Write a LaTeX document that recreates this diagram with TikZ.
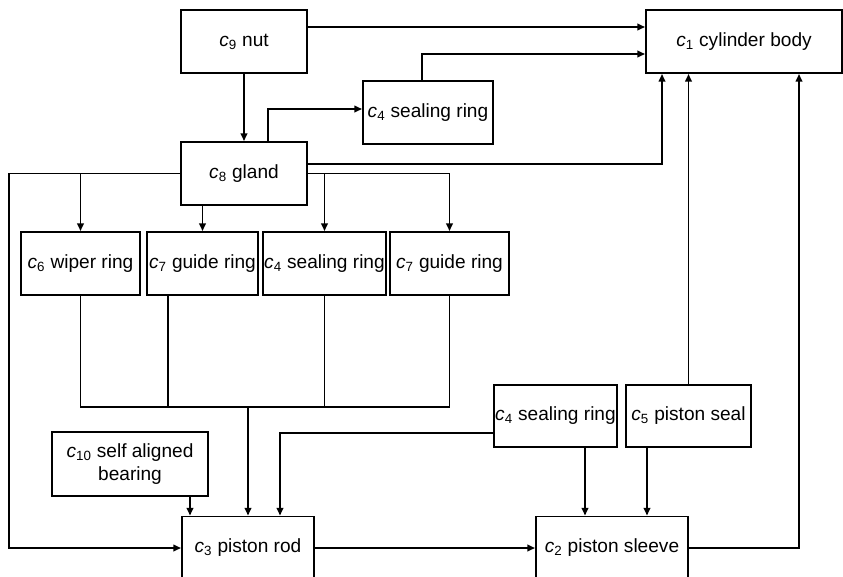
\documentclass[tikz,border=0pt]{standalone}
\usepackage{fontspec}
\setmainfont{Liberation Sans}
\usetikzlibrary{arrows.meta,calc,positioning}
\newcommand{\ci}[1]{\textit{c}\textsubscript{#1}}

\begin{document}
\begin{tikzpicture}[x=0.03cm,y=-0.03cm,
  part/.style={draw,line width=1.6pt,inner sep=1pt,minimum height=1.89cm,align=center,
    font=\fontsize{16.3}{19}\selectfont},
  link/.style={line width=1.6pt},
  arr/.style={link,-{Triangle[length=6.5pt,width=5.5pt]}}]

\clip (0,0) rectangle (843,576);

% parts
\node[part,minimum width=3.78cm] (nut) at (244,41.5) {\ci{9} nut};
\node[part,minimum width=5.88cm] (body) at (744,41.5) {\ci{1} cylinder body};
\node[part,minimum width=3.9cm] (sealA) at (428,112.5) {\ci{4} sealing ring};
\node[part,minimum width=3.78cm] (gland) at (244,173.5) {\ci{8} gland};

\node[part,minimum width=3.57cm] (wiper) at (80.5,263.5) {\ci{6} wiper ring};
\node[part,minimum width=3.33cm] (guideA) at (202.5,263.5) {\ci{7} guide ring};
\node[part,minimum width=3.57cm] (sealB) at (324.5,263.5) {\ci{4} sealing ring};
\node[part,minimum width=3.57cm] (guideB) at (449.5,263.5) {\ci{7} guide ring};

\node[part,minimum width=4.68cm,minimum height=1.92cm] (bearing) at (130,464) {\ci{10} self aligned\\bearing};
\node[part,minimum width=3.69cm,minimum height=1.86cm] (sealC) at (555.5,416) {\ci{4} sealing ring};
\node[part,minimum width=3.75cm,minimum height=1.86cm] (pseal) at (688.5,416) {\ci{5} piston seal};

\node[part,minimum width=3.96cm] (rod) at (248,548) {\ci{3} piston rod};
\node[part,minimum width=4.56cm] (sleeve) at (612,548) {\ci{2} piston sleeve};

\coordinate (leftrail) at (9,0);
\coordinate (bus) at (248,407);

% nut and gland
\draw[arr] (nut) -- (gland);
\draw[arr] ($(nut.east)+(0,-14.5)$) -- ($(body.west)+(0,-14.5)$);
\draw[arr] ($(sealA.north)+(-6,0)$) |- ($(body.west)+(0,12.5)$);
\draw[arr] ($(gland.north)+(24,0)$) |- ($(sealA.west)+(0,-3.5)$);
\draw[arr] ($(gland.east)+(0,-9.5)$) -| ($(body.south)+(-82,0)$);

% gland to the rings
\draw[arr] (gland.west) -- (gland.west -| leftrail) |- (rod.west);
\draw[arr] (gland.west -| wiper.north) -- (wiper.north);
\draw[arr] (gland.south -| guideA.north) -- (guideA.north);
\draw[arr] (gland.east) -| (guideB.north);
\draw[arr] (gland.east -| sealB.north) -- (sealB.north);

% rings to the rod
\draw[link] (wiper.south) |- (bus -| guideB.south) -- (guideB.south);
\draw[link] ($(guideA.south)+(-34.5,0)$) |- (bus);
\draw[link] (sealB.south) -- (sealB.south |- bus);
\draw[arr] (bus) -- (rod.north);
\draw[arr] ($(bearing.south)+(60,0)$) coordinate (b1) -- (b1 |- rod.north);
\draw[arr] ($(sealC.west)+(0,17)$) -| ($(rod.north)+(32,0)$);

% sleeve
\draw[arr] ($(sealC.south)+(29.5,0)$) coordinate (s1) -- (s1 |- sleeve.north);
\draw[arr] ($(pseal.south)+(-41.5,0)$) coordinate (s2) -- (s2 |- sleeve.north);
\draw[arr] (pseal.north) -- (pseal.north |- body.south);
\draw[arr] (sleeve.east) -| ($(body.south)+(55,0)$);
\draw[arr,line width=2pt] (rod.east) -- (sleeve.west);

\end{tikzpicture}
\end{document}
